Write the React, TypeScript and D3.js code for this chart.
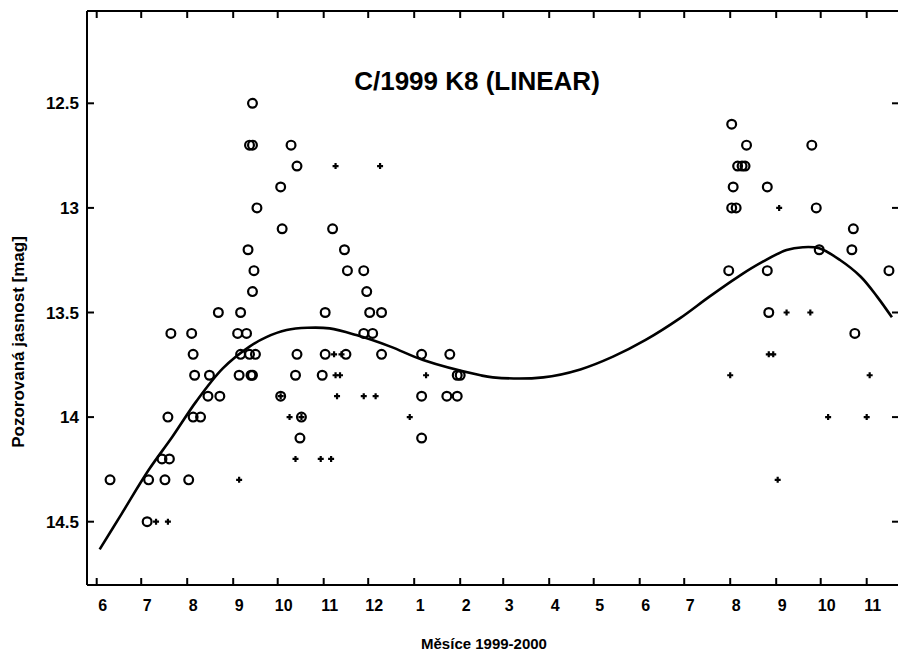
import React from "react";
import * as d3 from "d3";

// Observations of comet C/1999 K8 (LINEAR): date and visual magnitude
const circleDates = [
  "1999-06-10", "1999-07-05", "1999-07-06", "1999-07-15", "1999-07-20", "1999-07-17",
  "1999-07-19", "1999-07-21", "1999-08-02", "1999-08-04", "1999-08-05", "1999-08-06",
  "1999-08-05", "1999-08-10", "1999-08-16", "1999-08-15", "1999-08-22", "1999-08-23",
  "1999-09-04", "1999-09-10", "1999-09-05", "1999-09-06", "1999-09-06", "1999-09-11",
  "1999-09-12", "1999-09-13", "1999-09-14", "1999-09-14", "1999-09-12", "1999-09-14",
  "1999-09-14", "1999-09-15", "1999-09-16", "1999-09-17", "1999-10-03", "1999-10-04",
  "1999-10-10", "1999-10-14", "1999-10-03", "1999-10-14", "1999-10-13", "1999-10-17",
  "1999-10-16", "1999-11-02", "1999-11-02", "1999-10-31", "1999-11-07", "1999-11-15",
  "1999-11-17", "1999-11-16", "1999-11-28", "1999-11-30", "1999-12-02", "1999-11-28",
  "1999-12-04", "1999-12-10", "1999-12-10", "2000-01-06", "2000-01-06", "2000-01-06",
  "2000-01-25", "2000-01-23", "2000-01-30", "2000-01-30", "2000-02-01",
  "2000-08-02", "2000-08-12", "2000-08-06", "2000-08-09", "2000-08-11", "2000-08-03",
  "2000-08-02", "2000-08-05", "2000-07-31", "2000-08-26", "2000-08-26", "2000-08-27",
  "2000-09-25", "2000-09-28", "2000-09-30", "2000-10-23", "2000-10-22", "2000-10-24",
  "2000-11-16",
];
const circleMags = [
  14.3, 14.5, 14.3, 14.2, 14.2, 14.3,
  14.0, 13.6, 14.3, 13.6, 13.7, 13.8,
  14.0, 14.0, 13.8, 13.9, 13.5, 13.9,
  13.6, 13.6, 13.8, 13.5, 13.7, 13.2,
  13.7, 13.8, 13.8, 12.5, 12.7, 12.7,
  13.4, 13.3, 13.7, 13.0, 12.9, 13.1,
  12.7, 12.8, 13.9, 13.7, 13.8, 14.0,
  14.1, 13.5, 13.7, 13.8, 13.1, 13.2,
  13.3, 13.7, 13.3, 13.4, 13.5, 13.6,
  13.6, 13.5, 13.7, 13.7, 13.9, 14.1,
  13.7, 13.9, 13.9, 13.8, 13.8,
  12.6, 12.7, 12.8, 12.8, 12.8, 12.9,
  13.0, 13.0, 13.3, 12.9, 13.3, 13.5,
  12.7, 13.0, 13.2, 13.1, 13.2, 13.6,
  13.3,
];

const plusDates = [
  "1999-07-11", "1999-07-19", "1999-09-05", "1999-10-09", "1999-10-17", "1999-10-03",
  "1999-10-13", "1999-10-30", "1999-11-06", "1999-11-09", "1999-12-09", "1999-11-08",
  "1999-11-13", "1999-11-09", "1999-11-12", "1999-11-10", "1999-11-28", "1999-12-06",
  "1999-12-29", "2000-01-09", "2000-08-01", "2000-09-03", "2000-08-27", "2000-08-30",
  "2000-09-08", "2000-09-24", "2000-09-02", "2000-10-06", "2000-11-01", "2000-11-03",
];
const plusMags = [
  14.5, 14.5, 14.3, 14.0, 14.0, 13.9,
  14.2, 14.2, 14.2, 12.8, 12.8, 13.7,
  13.7, 13.8, 13.8, 13.9, 13.9, 13.9,
  14.0, 13.8, 13.8, 13.0, 13.7, 13.7,
  13.5, 13.5, 14.3, 14.0, 14.0, 13.8,
];

// Smoothed light curve
const curveDates = [
  "1999-06-03", "1999-06-18", "1999-07-06", "1999-07-22", "1999-08-07", "1999-08-25",
  "1999-09-12", "1999-09-23", "1999-10-07", "1999-10-21", "1999-11-05", "1999-11-23",
  "1999-12-16", "2000-01-07", "2000-02-14", "2000-02-23", "2000-03-28", "2000-04-22",
  "2000-05-14", "2000-06-05", "2000-06-28", "2000-07-18", "2000-08-08", "2000-08-23",
  "2000-09-08", "2000-09-19", "2000-09-30", "2000-10-14", "2000-10-28", "2000-11-08",
  "2000-11-18",
];
const curveMags = [
  14.632, 14.46, 14.253, 14.094, 13.926, 13.767,
  13.663, 13.619, 13.584, 13.573, 13.576, 13.608,
  13.663, 13.727, 13.799, 13.81, 13.81, 13.772,
  13.711, 13.631, 13.528, 13.424, 13.321, 13.257,
  13.201, 13.188, 13.193, 13.249, 13.329, 13.424,
  13.523,
];

const yTickValues = [12.5, 13, 13.5, 14, 14.5];
const yTickLabels = ["12.5", "13", "13.5", "14", "14.5"];
const titleText = "C/1999 K8 (LINEAR)";
const xTitle = "Měsíce 1999-2000";
const yTitle = "Pozorovaná jasnost [mag]";

const W = 898;
const H = 651;
const frame = { left: 87, right: 900, top: 11, bottom: 585 };
const FONT = "'Liberation Sans', Arial, Helvetica, sans-serif";

const parse = d3.utcParse("%Y-%m-%d");

export default function App() {
  const tickStart = parse("1999-06-01")!;
  const tickEnd = parse("2000-11-01")!;
  const x = d3.scaleUtc().domain([tickStart, tickEnd]).range([96.7, 866.7]);
  const y = d3.scaleLinear().domain([12.5, 14.5]).range([103.3, 521.7]);

  const months = d3.utcMonth.range(tickStart, d3.utcMonth.offset(tickEnd, 1));
  const monthFmt = d3.utcFormat("%-m");

  const circles = circleDates.map((d, i) => ({ d: parse(d)!, m: circleMags[i] }));
  const pluses = plusDates.map((d, i) => ({ d: parse(d)!, m: plusMags[i] }));
  const curvePts = curveDates.map((d, i) => ({ d: parse(d)!, m: curveMags[i] }));

  const line = d3
    .line<{ d: Date; m: number }>()
    .x((p) => x(p.d))
    .y((p) => y(p.m))
    .curve(d3.curveCatmullRom.alpha(0.5));

  const tickLen = 7;

  return (
    <svg
      width={W}
      height={H}
      viewBox={`0 0 ${W} ${H}`}
      style={{ position: "absolute", left: 0, top: 0, background: "#fff" }}
    >
      <rect x={0} y={0} width={W} height={H} fill="#fff" />

      {/* frame */}
      <g stroke="#000" strokeWidth={2} fill="none">
        <line x1={frame.left} x2={frame.left} y1={frame.top} y2={frame.bottom} />
        <line x1={frame.left} x2={frame.right} y1={frame.top} y2={frame.top} />
        <line x1={frame.left} x2={frame.right} y1={frame.bottom} y2={frame.bottom} />
        <line x1={frame.right} x2={frame.right} y1={frame.top} y2={frame.bottom} />
      </g>

      {/* month ticks, top and bottom */}
      <g stroke="#000" strokeWidth={2}>
        {months.map((m, i) => (
          <g key={i}>
            <line x1={x(m)} x2={x(m)} y1={frame.bottom} y2={frame.bottom - tickLen} />
            <line x1={x(m)} x2={x(m)} y1={frame.top} y2={frame.top + tickLen} />
          </g>
        ))}
      </g>
      <g fontFamily={FONT} fontWeight="bold" fontSize={16} textAnchor="middle" fill="#000">
        {months.map((m, i) => (
          <text key={i} x={x(m) + 6} y={611}>
            {monthFmt(m)}
          </text>
        ))}
      </g>

      {/* magnitude ticks, left and right */}
      <g stroke="#000" strokeWidth={2}>
        {yTickValues.map((v, i) => (
          <g key={i}>
            <line x1={frame.left} x2={frame.left + tickLen} y1={y(v)} y2={y(v)} />
            <line x1={892} x2={898} y1={y(v)} y2={y(v)} />
          </g>
        ))}
      </g>
      <g fontFamily={FONT} fontWeight="bold" fontSize={17} textAnchor="end" fill="#000">
        {yTickValues.map((v, i) => (
          <text key={i} x={79} y={y(v) + 6}>
            {yTickLabels[i]}
          </text>
        ))}
      </g>

      {/* light curve */}
      <path d={line(curvePts) ?? ""} fill="none" stroke="#000" strokeWidth={2.6} strokeLinejoin="round" />

      {/* circle observations */}
      <g fill="none" stroke="#000" strokeWidth={2.2}>
        {circles.map((p, i) => (
          <circle key={i} cx={x(p.d)} cy={y(p.m)} r={4.4} />
        ))}
      </g>

      {/* plus observations */}
      <g stroke="#000" strokeWidth={2.2}>
        {pluses.map((p, i) => (
          <path
            key={i}
            transform={`translate(${x(p.d)},${y(p.m)})`}
            d="M-3,0H3M0,-3V3"
          />
        ))}
      </g>

      {/* titles */}
      <text x={477} y={90} fontFamily={FONT} fontWeight="bold" fontSize={26} textAnchor="middle" fill="#000">
        {titleText}
      </text>
      <text x={484} y={649} fontFamily={FONT} fontWeight="bold" fontSize={15} textAnchor="middle" fill="#000">
        {xTitle}
      </text>
      <text
        transform="translate(24,342) rotate(-90)"
        fontFamily={FONT}
        fontWeight="bold"
        fontSize={17}
        textAnchor="middle"
        fill="#000"
      >
        {yTitle}
      </text>
    </svg>
  );
}
